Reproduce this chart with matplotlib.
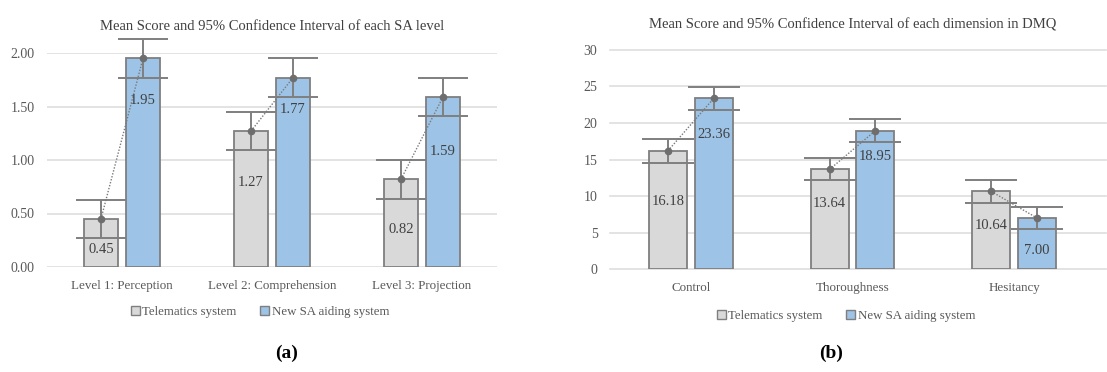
import matplotlib
matplotlib.use("Agg")
import matplotlib.pyplot as plt
from matplotlib.patches import Patch
import numpy as np

plt.rcParams['font.family'] = ['Liberation Serif', 'DejaVu Serif']

# Panel (a): SA levels
sa_levels = ["Level 1: Perception", "Level 2: Comprehension", "Level 3: Projection"]
sa_telematics = [0.45, 1.27, 0.82]
sa_new = [1.95, 1.77, 1.59]
sa_tele_ci = [0.18, 0.18, 0.18]
sa_new_ci = [0.18, 0.18, 0.18]
sa_ticks = [0.0, 0.5, 1.0, 1.5, 2.0]

# Panel (b): DMQ dimensions
dmq_dims = ["Control", "Thoroughness", "Hesitancy"]
dmq_telematics = [16.18, 13.64, 10.64]
dmq_new = [23.36, 18.95, 7.00]
dmq_tele_ci = [1.6, 1.5, 1.6]
dmq_new_ci = [1.6, 1.6, 1.5]
dmq_ticks = [0, 5, 10, 15, 20, 25, 30]

series_names = ["Telematics system", "New SA aiding system"]

GRAY = "#d9d9d9"
BLUE = "#9dc3e6"
EDGE = "#7f7f7f"
TXT = "#404040"
GRID = "#dedede"

W, H = 1107, 372
fig = plt.figure(figsize=(W / 100, H / 100), dpi=100)


def px_axes(x0, x1, ytop, ybot):
    return fig.add_axes([x0 / W, 1 - ybot / H, (x1 - x0) / W, (ybot - ytop) / H])


def draw_panel(ax, cats, tele, new, tele_ci, new_ci, ticks, fmt, title,
               label_y_tele, label_y_new, width, offset, capsize, title_pad):
    x = np.arange(len(cats))
    xt = x - offset
    xn = x + offset
    ax.bar(xt, tele, width, color=GRAY, edgecolor=EDGE, linewidth=1.3, zorder=2)
    ax.bar(xn, new, width, color=BLUE, edgecolor=EDGE, linewidth=1.3, zorder=2)
    for xs, vals, ci in ((xt, tele, tele_ci), (xn, new, new_ci)):
        ax.errorbar(xs, vals, yerr=ci, fmt="none", ecolor=EDGE, elinewidth=1.4,
                    capsize=capsize, capthick=1.4, zorder=3, clip_on=False)
    for i in range(len(cats)):
        ax.plot([xt[i], xn[i]], [tele[i], new[i]], color="#7a7a7a", lw=1.0,
                ls=(0, (1, 1.2)), marker="o", ms=4.5, mfc="#6e6e6e",
                mec="#6e6e6e", zorder=4, clip_on=False)
        ax.text(xt[i], label_y_tele[i], fmt.format(tele[i]), ha="center",
                va="center", fontsize=10.5, color=TXT, zorder=5)
        ax.text(xn[i], label_y_new[i], fmt.format(new[i]), ha="center",
                va="center", fontsize=10.5, color=TXT, zorder=5)
    ax.set_xlim(-0.5, len(cats) - 0.5)
    ax.set_ylim(ticks[0], ticks[-1])
    ax.set_yticks(ticks)
    ax.set_xticks(x)
    ax.set_xticklabels(cats)
    ax.tick_params(axis="both", length=0, labelcolor="#595959")
    ax.tick_params(axis="x", pad=9, labelsize=9.4)
    ax.tick_params(axis="y", pad=9, labelsize=10)
    for s in ax.spines.values():
        s.set_visible(False)
    ax.grid(axis="y", color=GRID, lw=1.2, zorder=0)
    ax.set_axisbelow(True)
    ax.set_title(title, fontsize=10.5, color=TXT, pad=title_pad)


ax_a = px_axes(47, 497, 53, 267)
draw_panel(ax_a, sa_levels, sa_telematics, sa_new, sa_tele_ci, sa_new_ci,
           sa_ticks, "{:.2f}",
           "Mean Score and 95% Confidence Interval of each SA level",
           [0.16, 0.79, 0.355], [1.56, 1.47, 1.08],
           width=0.233, offset=0.14, capsize=18, title_pad=16.5)
ax_a.yaxis.set_major_formatter(matplotlib.ticker.FormatStrFormatter("%.2f"))

ax_b = px_axes(610, 1095, 49.7, 269.3)
draw_panel(ax_b, dmq_dims, dmq_telematics, dmq_new, dmq_tele_ci, dmq_new_ci,
           dmq_ticks, "{:.2f}",
           "Mean Score and 95% Confidence Interval of each dimension in DMQ",
           [9.2, 9.05, 6.05], [18.4, 15.4, 2.6],
           width=0.235, offset=0.142, capsize=18.7, title_pad=15)
ax_b.set_xlim(-0.5, 2.5)
ax_b.grid(False)
for t in dmq_ticks:
    ax_b.plot([-0.5, 2.57], [t, t], color=GRID, lw=1.2, zorder=0, clip_on=False)

handles = [Patch(facecolor=GRAY, edgecolor=EDGE, lw=1.0),
           Patch(facecolor=BLUE, edgecolor=EDGE, lw=1.0)]
for cx, cy in ((260, 312), (846, 316)):
    fig.legend(handles, series_names, loc="center",
               bbox_to_anchor=(cx / W, 1 - cy / H), ncol=2, frameon=False,
               fontsize=9.3, labelcolor="#595959", handlelength=0.7,
               handleheight=0.7, handletextpad=0.2, columnspacing=1.8)

fig.text(287 / W, 1 - 353 / H, "(a)", ha="center", va="center",
         fontsize=14, fontweight="bold", color="black")
fig.text(831 / W, 1 - 353 / H, "(b)", ha="center", va="center",
         fontsize=14, fontweight="bold", color="black")

fig.savefig("out.png", dpi=100)
